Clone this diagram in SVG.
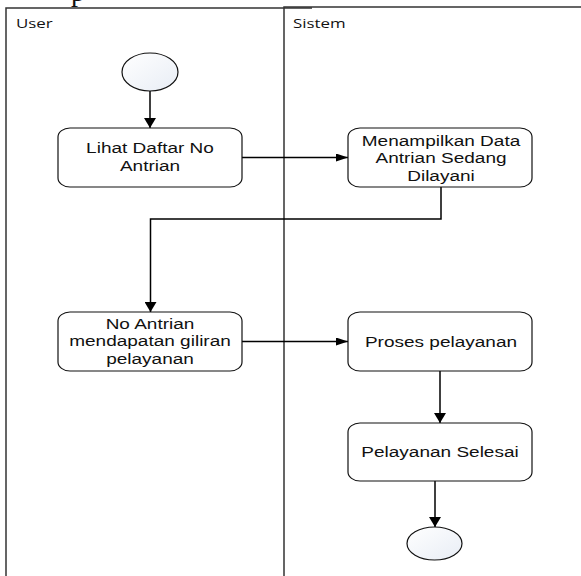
<svg xmlns="http://www.w3.org/2000/svg" width="581" height="576" viewBox="0 0 581 576">
  <style>
    .lane { fill: none; stroke: #333; stroke-width: 1.5; }
    .node rect { fill: #fff; stroke: #111; stroke-width: 1.2; }
    .node ellipse { fill: url(#disc); stroke: #111; stroke-width: 1.2; }
    .label { font-family: "Liberation Sans", Arial, sans-serif; font-size: 14.4px; fill: #111; text-anchor: middle; }
    .lane-title { font-family: "Open Sans", "DejaVu Sans", sans-serif; font-size: 12.8px; fill: #111; }
    .flow { fill: none; stroke: #000; stroke-width: 1.5; }
  </style>
  <defs>
    <linearGradient id="disc" x1="0" y1="0" x2="1" y2="1">
      <stop offset="0" stop-color="#ffffff"/>
      <stop offset="1" stop-color="#e8edf5"/>
    </linearGradient>
    <marker id="arrow-v" markerUnits="userSpaceOnUse" markerWidth="10" markerHeight="12" refX="10" refY="6" orient="auto">
      <path d="M0,0 L10,6 L0,12 z" fill="#000"/>
    </marker>
    <marker id="arrow-h" markerUnits="userSpaceOnUse" markerWidth="12" markerHeight="8" refX="12" refY="4" orient="auto">
      <path d="M0,0 L12,4 L0,8 z" fill="#000"/>
    </marker>
  </defs>

  <rect width="581" height="576" fill="#fff"/>

  <!-- fragment of the caption line above the chart -->
  <text x="71" y="0.5" font-family="'Liberation Serif', serif" font-size="28" fill="#111">p</text>

  <!-- swimlanes -->
  <g id="lanes">
    <path class="lane" d="M6,578 L6,8 L312,8"/>
    <path class="lane" d="M284,578 L284,7 L582,7"/>
    <g transform="translate(16 28) scale(1.32 1)"><text class="lane-title" x="0" y="0">User</text></g>
    <g transform="translate(293 27.5) scale(1.32 1)"><text class="lane-title" x="0" y="0">Sistem</text></g>
  </g>

  <!-- connectors -->
  <g id="connectors">
    <path class="flow" d="M150,91 L150,128" marker-end="url(#arrow-v)"/>
    <path class="flow" d="M242,157.5 L348,157.5" marker-end="url(#arrow-h)"/>
    <path class="flow" d="M441,187 L441,219 L150.5,219 L150.5,312" marker-end="url(#arrow-v)"/>
    <path class="flow" d="M242,341.5 L348,341.5" marker-end="url(#arrow-h)"/>
    <path class="flow" d="M440,371 L440,423" marker-end="url(#arrow-v)"/>
    <path class="flow" d="M435,481 L435,527" marker-end="url(#arrow-v)"/>
  </g>

  <!-- nodes -->
  <g id="start" class="node">
    <ellipse cx="150" cy="72" rx="28" ry="19"/>
  </g>

  <g id="lihat-daftar" class="node">
    <rect x="58" y="128" width="184" height="59" rx="12" ry="9"/>
    <g transform="translate(150 0) scale(1.32 1)">
      <text class="label" x="0" y="153.5">Lihat Daftar No</text>
      <text class="label" x="0" y="171.5">Antrian</text>
    </g>
  </g>

  <g id="menampilkan-data" class="node">
    <rect x="348" y="128" width="184" height="59" rx="12" ry="9"/>
    <g transform="translate(441 0) scale(1.32 1)">
      <text class="label" x="0" y="146">Menampilkan Data</text>
      <text class="label" x="0" y="163.5">Antrian Sedang</text>
      <text class="label" x="0" y="181">Dilayani</text>
    </g>
  </g>

  <g id="giliran" class="node">
    <rect x="58" y="312" width="184" height="59" rx="12" ry="9"/>
    <g transform="translate(150 0) scale(1.32 1)">
      <text class="label" x="0" y="329">No Antrian</text>
      <text class="label" x="0" y="346.5">mendapatan giliran</text>
      <text class="label" x="0" y="364">pelayanan</text>
    </g>
  </g>

  <g id="proses" class="node">
    <rect x="348" y="312" width="184" height="59" rx="12" ry="9"/>
    <g transform="translate(441 0) scale(1.32 1)">
      <text class="label" x="0" y="347">Proses pelayanan</text>
    </g>
  </g>

  <g id="selesai" class="node">
    <rect x="348" y="423" width="184" height="58" rx="12" ry="9"/>
    <g transform="translate(440 0) scale(1.32 1)">
      <text class="label" x="0" y="457">Pelayanan Selesai</text>
    </g>
  </g>

  <g id="end" class="node">
    <ellipse cx="434.5" cy="543.5" rx="27.5" ry="16.5"/>
  </g>
</svg>
